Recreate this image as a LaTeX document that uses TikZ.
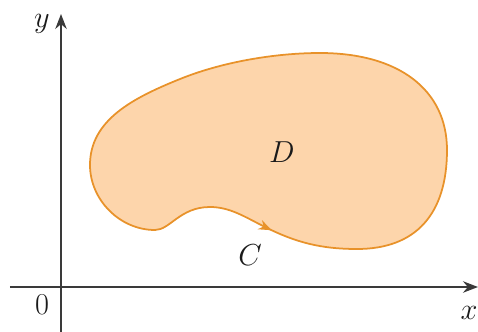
\documentclass[tikz,border=0pt]{standalone}
\usepackage{xcolor}
\usetikzlibrary{arrows.meta,decorations.markings}
\definecolor{blackmain}{HTML}{1A1A1A}
\definecolor{orangeacc}{HTML}{E8922A}
\definecolor{orangefill}{HTML}{FDD5AB}
\definecolor{graymuted}{HTML}{3A3A3A}
\tikzset{axis/.style={-{Stealth[length=3mm,width=2.3mm]},line width=.9pt,graymuted},
region/.style={fill=orangefill,draw=orangeacc,line width=1pt},
lbl/.style={font=\fontsize{16}{18}\selectfont,blackmain}}

\begin{document}
\begin{tikzpicture}[x=0.02cm,y=-0.02cm]
\useasboundingbox (0,0) rectangle (478,332);
\coordinate (xs) at (10,287);
\coordinate (xe) at (478,287);
\coordinate (ys) at (61,332);
\coordinate (ye) at (61,14);
\draw[region,postaction={decorate},decoration={markings,
mark=at position 0.008 with {\arrow{Stealth[length=2.6mm,width=2mm]}}}]
(265,227) .. controls (295,242) and (320,249) .. (357,249)
.. controls (416,249) and (447,214) .. (447,150)
.. controls (447,90) and (399,53) .. (320,53)
.. controls (275,53) and (222,62) .. (180,79)
.. controls (133,98) and (90,120) .. (90,165)
.. controls (90,200) and (120,230) .. (155,230)
.. controls (170,230) and (180,207) .. (210,207)
.. controls (230,207) and (245,217) .. (265,227) -- cycle;
\draw[axis] (xs) -- (xe);
\draw[axis] (ys) -- (ye);
\node[lbl] (ylbl) at (42,24) {$y$};
\node[lbl] (xlbl) at (469,313) {$x$};
\node[lbl] (orig) at (42,305) {$0$};
\node[lbl] (dlbl) at (282,152) {$D$};
\node[lbl] (clbl) at (250,255) {$C$};
\end{tikzpicture}
\end{document}
